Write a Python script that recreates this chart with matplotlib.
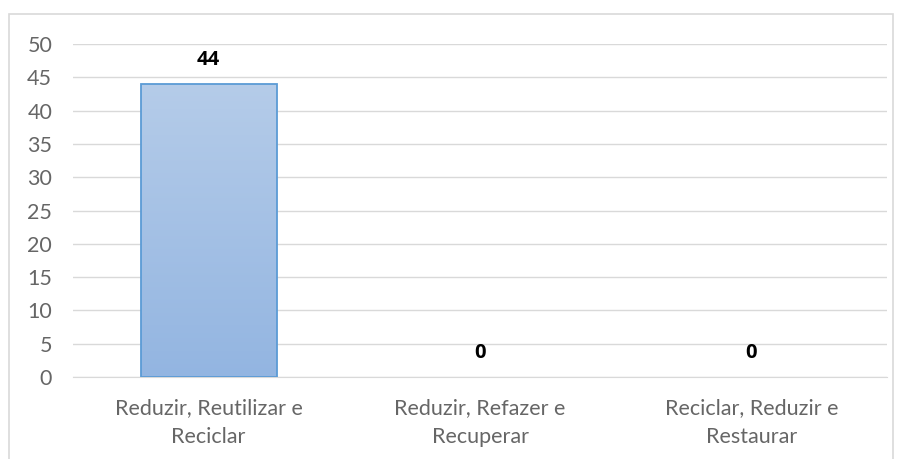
import numpy as np
import matplotlib.pyplot as plt
from matplotlib.patches import Rectangle
from matplotlib.colors import LinearSegmentedColormap

categorias = ["Reduzir, Reutilizar e\nReciclar", "Reduzir, Refazer e\nRecuperar", "Reciclar, Reduzir e\nRestaurar"]
valores = [44, 0, 0]
yticks = [0, 5, 10, 15, 20, 25, 30, 35, 40, 45, 50]

plt.rcParams['font.family'] = ['Lato', 'DejaVu Sans']

fig = plt.figure(figsize=(9.02, 4.59), dpi=100)
# moldura do grafico
fig.patches.append(Rectangle((9/902, -0.01), 884/902, 1 - 14/459 + 0.01, transform=fig.transFigure,
                             fill=False, edgecolor='#D9D9D9', linewidth=1.2))
ax = fig.add_axes([73/902, 1 - 377/459, 814/902, 333/459])

x = np.arange(len(categorias))
bars = ax.bar(x, valores, width=0.5, color='none', edgecolor='#5B9BD5', linewidth=1.3, zorder=3)

cmap = LinearSegmentedColormap.from_list('grad', ['#93B5E1', '#B5CCE9'])
grad = np.linspace(0, 1, 256).reshape(-1, 1)
for b in bars:
    if b.get_height() <= 0:
        b.set_edgecolor('none')
        continue
    im = ax.imshow(grad, cmap=cmap, aspect='auto', origin='lower',
                   extent=[b.get_x(), b.get_x() + b.get_width(), 0, b.get_height()], zorder=2)
    im.set_clip_path(b)

for xi, v in zip(x, valores):
    ax.annotate(str(v), (xi, v), xytext=(0, 10), textcoords='offset points',
                ha='center', va='bottom', fontsize=14.5, fontweight='bold', color='black',
                family=['Open Sans', 'DejaVu Sans'])

ax.set_xlim(-0.5, 2.5)
ax.set_ylim(0, 50)
ax.set_yticks(yticks)
ax.set_xticks(x)
ax.set_xticklabels(categorias, fontsize=15.5, color='#666666', linespacing=1.55)
ax.tick_params(axis='y', labelsize=15.5, labelcolor='#666666', length=0, pad=15)
ax.tick_params(axis='x', length=0, pad=15)
ax.grid(axis='y', color='#D9D9D9', linewidth=1, zorder=0)
ax.set_axisbelow(True)
for s in ['top', 'right', 'left']:
    ax.spines[s].set_visible(False)
ax.spines['bottom'].set_color('#D9D9D9')

fig.savefig('out.png', dpi=100)
